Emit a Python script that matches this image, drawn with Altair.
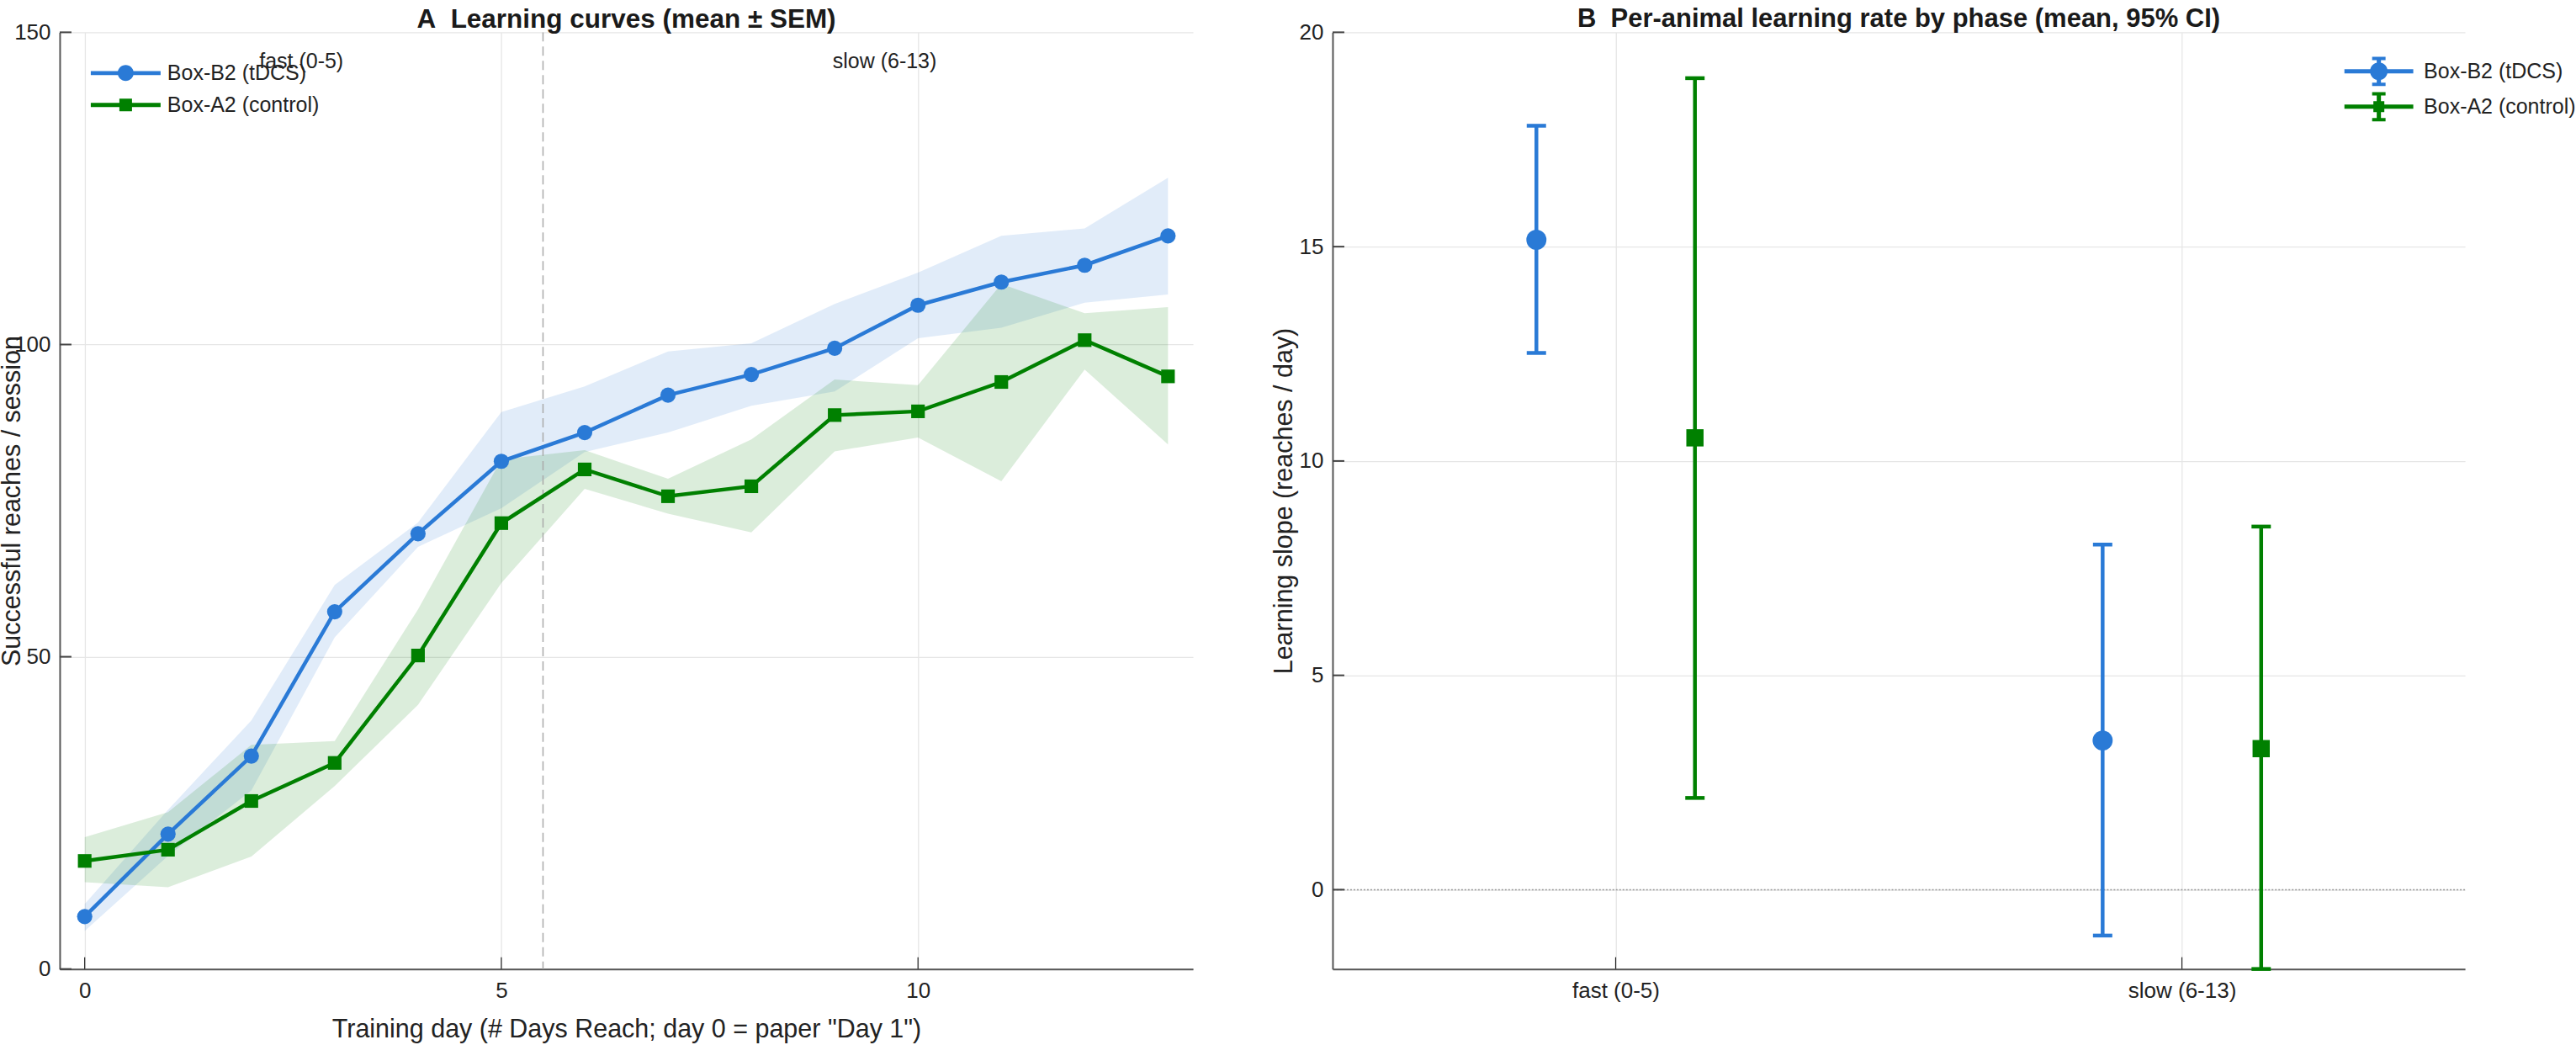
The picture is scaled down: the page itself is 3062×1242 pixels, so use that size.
import json
import altair as alt
import pandas as pd

# ---------------- data ----------------
groups = ["Box-B2 (tDCS)", "Box-A2 (control)"]
days = list(range(14))

b2_mean = [8.4, 21.6, 34.1, 57.2, 69.7, 81.3, 85.9, 91.9, 95.2, 99.4, 106.3, 110.0, 112.7, 117.4]
b2_lo = [6.1, 18.1, 28.6, 53.1, 67.6, 73.8, 82.8, 85.9, 90.2, 92.5, 101.0, 102.7, 106.7, 108.0]
b2_hi = [10.4, 25.5, 39.8, 61.5, 71.5, 89.2, 93.3, 98.9, 100.2, 106.5, 111.5, 117.4, 118.6, 126.7]

a2_mean = [17.3, 19.1, 26.9, 33.0, 50.2, 71.4, 80.0, 75.7, 77.3, 88.7, 89.3, 94.0, 100.7, 94.9]
a2_lo = [13.9, 13.1, 18.0, 29.3, 42.3, 61.8, 76.9, 72.9, 69.9, 82.9, 85.1, 78.1, 96.0, 84.0]
a2_hi = [21.1, 25.1, 35.9, 36.5, 57.6, 81.6, 83.1, 78.5, 84.8, 94.4, 93.5, 109.7, 105.0, 106.0]

phase_boundary = [5.5]
phase_text = ["fast (0-5)", "slow (6-13)"]
phase_text_day = [2.6, 9.6]
phase_text_y = [145.4, 145.4]

slope_phases = ["fast (0-5)", "slow (6-13)"]
b2_slope = [15.16, 3.48]
b2_ci_lo = [12.52, -1.07]
b2_ci_hi = [17.82, 8.05]
a2_slope = [10.54, 3.29]
a2_ci_lo = [2.14, -1.85]
a2_ci_hi = [18.93, 8.47]

# ---------------- styling ----------------
FONT = "Liberation Sans"
BLUE = "#2a7ad6"
GREEN = "#008000"
TXT = "#222222"
H = 1114
WA = 1348
WB = 1347
NB = "\u00a0"
TITLE_OFFSET = -14

tA = []
for g, m, lo, hi in [(groups[0], b2_mean, b2_lo, b2_hi), (groups[1], a2_mean, a2_lo, a2_hi)]:
    for d, mv, lv, hv in zip(days, m, lo, hi):
        tA.append({"group": g, "day": d, "mean": mv, "lo": lv, "hi": hv})
dfA = pd.DataFrame(tA)

tB = []
for g, m, lo, hi in [(groups[0], b2_slope, b2_ci_lo, b2_ci_hi), (groups[1], a2_slope, a2_ci_lo, a2_ci_hi)]:
    for i, (mv, lv, hv) in enumerate(zip(m, lo, hi)):
        tB.append({"group": g, "phase": slope_phases[i], "idx": i, "mean": mv, "lo": lv, "hi": hv})
dfB = pd.DataFrame(tB)

cscale = alt.Scale(domain=groups, range=[BLUE, GREEN])
shape_scale = alt.Scale(domain=groups, range=["circle", "square"])

# custom legend glyphs (unit = symbol radius)
LINE = "M-4.37,-0.26H4.37V0.26H-4.37Z"
CIRC = "M1,0A1,1 0 1,1 -1,0A1,1 0 1,1 1,0Z"
legA_paths = [LINE + " " + CIRC, LINE + " M-0.79,-0.79H0.79V0.79H-0.79Z"]
LINEB = "M-3.9,-0.24H3.9V0.24H-3.9Z M-0.24,-1.66H0.24V1.66H-0.24Z M-0.76,-1.66H0.76V-1.28H-0.76Z M-0.76,1.28H0.76V1.66H-0.76Z"
legB_paths = [LINEB + " " + CIRC, LINEB + " M-0.62,-0.62H0.62V0.62H-0.62Z"]

# ---------------- panel A ----------------
xA_scale = alt.Scale(domain=[-0.3, 13.3], nice=False, zero=False)
yA_scale = alt.Scale(domain=[0, 150], nice=False, zero=False)
xA_axis = alt.Axis(values=[0, 5, 10], title='Training day (# Days Reach; day 0 = paper "Day 1")',
                   labelPadding=13, titleY=72, titleBaseline="middle", format="d")
yA_axis = alt.Axis(values=[0, 50, 100, 150], title="Successful reaches / session",
                   labelPadding=11, titleX=-56, titleY=H / 2, titleBaseline="middle", format="d")


def XA(f):
    return alt.X(f + ":Q", scale=xA_scale, axis=xA_axis)


def YA(f):
    return alt.Y(f + ":Q", scale=yA_scale, axis=yA_axis)


baseA = alt.Chart(dfA)
bandsA = baseA.mark_area(opacity=0.14, line=False).encode(
    x=XA("day"), y=YA("lo"), y2="hi",
    color=alt.Color("group:N", scale=cscale, legend=None))
vline = alt.Chart(pd.DataFrame({"b": phase_boundary})).mark_rule(
    color="#aaaaaa", strokeDash=[11, 6], strokeWidth=1.5).encode(x=XA("b"))
linesA = baseA.mark_line(strokeWidth=4.5).encode(
    x=XA("day"), y=YA("mean"), color=alt.Color("group:N", scale=cscale, legend=None))
ptsA = baseA.mark_point(filled=True, opacity=1, strokeWidth=0).encode(
    x=XA("day"), y=YA("mean"),
    color=alt.Color("group:N", scale=cscale, legend=None),
    shape=alt.Shape("group:N", scale=shape_scale, legend=None),
    size=alt.Size("group:N", scale=alt.Scale(domain=groups, range=[330, 262]), legend=None))
textA = alt.Chart(pd.DataFrame({"x": phase_text_day, "y": phase_text_y, "t": phase_text})).mark_text(
    font=FONT, fontSize=25, color=TXT, align="center", baseline="middle").encode(
    x=XA("x"), y=YA("y"), text="t:N")
xticksA = alt.Chart(pd.DataFrame({"t": [0, 5, 10]})).mark_rule(color="#222222", strokeWidth=1.2).encode(
    x=XA("t"), y=alt.value(H - 14), y2=alt.value(H))
yticksA = alt.Chart(pd.DataFrame({"t": [0, 50, 100, 150]})).mark_rule(color="#444444", strokeWidth=2).encode(
    y=YA("t"), x=alt.value(0), x2=alt.value(14))
legAdef = dict(title=None, orient="none", legendX=66, legendY=36, padding=0,
               labelFontSize=25, labelFont=FONT, labelColor=TXT, labelOffset=37,
               rowPadding=12, symbolSize=361, symbolStrokeWidth=0, labelLimit=500)
legA = baseA.transform_filter("false").mark_point(filled=True, opacity=1, strokeWidth=0, size=361).encode(
    x=XA("day"), y=YA("mean"),
    color=alt.Color("group:N", scale=cscale, legend=alt.Legend(**legAdef)),
    shape=alt.Shape("group:N", scale=alt.Scale(domain=groups, range=legA_paths), legend=alt.Legend(**legAdef)))

panelA = alt.layer(bandsA, vline, linesA, ptsA, textA, xticksA, yticksA, legA).resolve_scale(
    color="independent", shape="independent", size="independent").properties(
    width=WA, height=H,
    title=alt.TitleParams("A" + NB + NB + "Learning curves (mean" + NB + "\u00b1" + NB + "SEM)",
                          fontSize=31.5, fontWeight="bold", font=FONT, color="#1a1a1a", anchor="middle",
                          offset=TITLE_OFFSET))

# ---------------- panel B ----------------
xB_scale = alt.Scale(domain=[-0.5, 1.5], nice=False, zero=False)
yB_scale = alt.Scale(domain=[-1.85, 20], nice=False, zero=False)
xB_axis = alt.Axis(values=[0, 1], title=None, labelPadding=13,
                   labelExpr=json.dumps(slope_phases) + "[datum.value]")
yB_axis = alt.Axis(values=[0, 5, 10, 15, 20], title="Learning slope (reaches / day)",
                   labelPadding=11, titleX=-57, titleY=H / 2, titleBaseline="middle", format="d")


def XB(f):
    return alt.X(f + ":Q", scale=xB_scale, axis=xB_axis)


def YB(f):
    return alt.Y(f + ":Q", scale=yB_scale, axis=yB_axis)


baseB = alt.Chart(dfB).transform_calculate(
    xpos="datum.idx + (datum.group == '%s' ? -0.14 : 0.14)" % groups[0])
zero = alt.Chart(pd.DataFrame({"z": [0]})).mark_rule(
    color="#999999", strokeDash=[2, 2], strokeWidth=1.5).encode(y=YB("z"))
bars = baseB.mark_rule(strokeWidth=4.5).encode(
    x=XB("xpos"), y=YB("lo"), y2="hi", color=alt.Color("group:N", scale=cscale, legend=None))
capLo = baseB.mark_tick(orient="horizontal", size=23, thickness=4.5, opacity=1).encode(
    x=XB("xpos"), y=YB("lo"), color=alt.Color("group:N", scale=cscale, legend=None))
capHi = baseB.mark_tick(orient="horizontal", size=23, thickness=4.5, opacity=1).encode(
    x=XB("xpos"), y=YB("hi"), color=alt.Color("group:N", scale=cscale, legend=None))
ptsB = baseB.mark_point(filled=True, opacity=1, strokeWidth=0).encode(
    x=XB("xpos"), y=YB("mean"),
    color=alt.Color("group:N", scale=cscale, legend=None),
    shape=alt.Shape("group:N", scale=shape_scale, legend=None),
    size=alt.Size("group:N", scale=alt.Scale(domain=groups, range=[572, 420]), legend=None))
xticksB = alt.Chart(pd.DataFrame({"t": [0, 1]})).mark_rule(color="#222222", strokeWidth=1.2).encode(
    x=XB("t"), y=alt.value(H - 14), y2=alt.value(H))
yticksB = alt.Chart(pd.DataFrame({"t": [0, 5, 10, 15, 20]})).mark_rule(color="#444444", strokeWidth=2).encode(
    y=YB("t"), x=alt.value(0), x2=alt.value(14))
legBdef = dict(title=None, orient="none", legendX=1232, legendY=34, padding=0,
               labelFontSize=25, labelFont=FONT, labelColor=TXT, labelOffset=41,
               rowPadding=7, symbolSize=441, symbolStrokeWidth=0, labelLimit=500)
legB = baseB.transform_filter("false").mark_point(filled=True, opacity=1, strokeWidth=0, size=441).encode(
    x=XB("xpos"), y=YB("mean"),
    color=alt.Color("group:N", scale=cscale, legend=alt.Legend(**legBdef)),
    shape=alt.Shape("group:N", scale=alt.Scale(domain=groups, range=legB_paths), legend=alt.Legend(**legBdef)))

panelB = alt.layer(zero, bars, capLo, capHi, ptsB, xticksB, yticksB, legB).resolve_scale(
    color="independent", shape="independent", size="independent").properties(
    width=WB, height=H,
    title=alt.TitleParams("B" + NB + NB + "Per-animal learning rate by phase (mean, 95% CI)", fontSize=31,
                          fontWeight="bold", font=FONT, color="#1a1a1a", anchor="middle",
                          offset=TITLE_OFFSET))

chart = alt.hconcat(panelA, panelB, spacing=94).resolve_scale(
    color="independent", shape="independent", size="independent").properties(
    padding={"left": 0, "top": 7, "right": 0, "bottom": 0}
).configure(font=FONT).configure_view(strokeOpacity=0).configure_axis(
    domainColor="#555555", domainWidth=2, gridColor="#e6e6e6", gridWidth=1.3,
    ticks=False, tickSize=0, labelFontSize=26, labelColor=TXT, labelFont=FONT,
    titleFontSize=30.5, titleFontWeight="normal", titleColor=TXT, titleFont=FONT)

chart.save("out.html", embed_options={"renderer": "svg", "actions": False})
